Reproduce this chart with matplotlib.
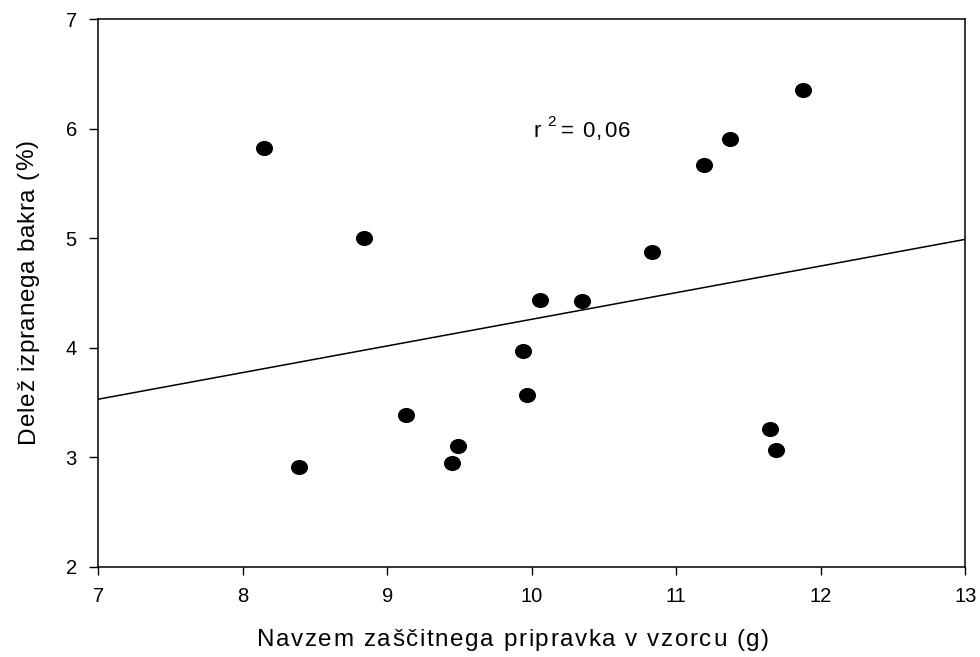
import numpy as np
import matplotlib
matplotlib.use("Agg")
import matplotlib.pyplot as plt
from matplotlib.path import Path
from matplotlib.transforms import Affine2D
from matplotlib import font_manager
from matplotlib.ft2font import FT2Font
try:
    from matplotlib.ft2font import LoadFlags
    NOHINT = LoadFlags.NO_HINTING
except ImportError:
    from matplotlib.ft2font import LOAD_NO_HINTING as NOHINT

# Data
x_vals = [8.15, 8.84, 8.39, 9.13, 9.45, 9.49, 9.94, 9.97, 10.06, 10.35,
          10.83, 11.19, 11.37, 11.88, 11.65, 11.69]
y_vals = [5.82, 5.00, 2.91, 3.39, 2.95, 3.10, 3.97, 3.57, 4.44, 4.43,
          4.87, 5.67, 5.91, 6.35, 3.26, 3.07]
fit_x = [7.0, 13.0]
fit_y = [3.53, 4.99]
x_ticks = [7, 8, 9, 10, 11, 12, 13]
y_ticks = [2, 3, 4, 5, 6, 7]
x_label = "Navzem zaščitnega pripravka v vzorcu (g)"
y_label = "Delež izpranega bakra (%)"
r2_label = "0,06"

FAMILY = 'Liberation Sans'
plt.rcParams['font.family'] = [FAMILY, 'DejaVu Sans']

W, H, DPI = 980, 657, 100
fig = plt.figure(figsize=(W / DPI, H / DPI), dpi=DPI)
ax = fig.add_axes([98.3/W, 1-566.7/H, (965.3-98.3)/W, (566.7-19.3)/H])

ellipse = Path.unit_circle().transformed(Affine2D().scale(1.13, 1.0))
ax.plot(x_vals, y_vals, linestyle='none', marker=ellipse, markersize=12.3,
        color='black', markeredgewidth=0)
ax.plot(fit_x, fit_y, color='black', linewidth=1.1)

ax.set_xlim(7, 13)
ax.set_ylim(2, 7)
ax.set_xticks(x_ticks)
ax.set_yticks(y_ticks)
ax.tick_params(direction='out', length=6.5, width=1.0, labelsize=14.5, pad=9)
ax.tick_params(axis='x', length=5.5)
for s in ax.spines.values():
    s.set_linewidth(1.1)

# --- letter-spaced text helpers (pixel layout, y measured from top) ---
fpath = font_manager.findfont(font_manager.FontProperties(family=FAMILY))


def advances(s, size):
    f = FT2Font(fpath)
    f.set_size(size, DPI)
    out = []
    for c in s:
        g = f.load_char(ord(c), flags=NOHINT)
        out.append(g.linearHoriAdvance / 65536)
    return out


def spaced_text(s, size, start, end, base, vertical=False):
    adv = advances(s, size)
    natural = sum(adv)
    gap = (abs(end - start) - natural) / max(len(s) - 1, 1)
    pos = 0.0
    for c, a in zip(s, adv):
        if vertical:
            fig.text(base / W, 1 - (start - pos) / H, c, fontsize=size,
                     rotation=90, rotation_mode='anchor', ha='left',
                     va='baseline', family=FAMILY)
        else:
            fig.text((start + pos) / W, 1 - base / H, c, fontsize=size,
                     ha='left', va='baseline', family=FAMILY)
        pos += a + gap


spaced_text(x_label, 17.5, 257, 769, 646)
spaced_text(y_label, 17.5, 443, 140, 33.5, vertical=True)

# r^2 annotation
fig.text(533.5 / W, 1 - 137 / H, "r", fontsize=16, ha='left', va='baseline', family=FAMILY)
fig.text(547.5 / W, 1 - 125.5 / H, "2", fontsize=11, ha='left', va='baseline', family=FAMILY)
fig.text(561 / W, 1 - 137 / H, "=", fontsize=16, ha='left', va='baseline', family=FAMILY)
spaced_text(r2_label, 16, 582, 630, 137)

fig.savefig("out.png", dpi=DPI)
